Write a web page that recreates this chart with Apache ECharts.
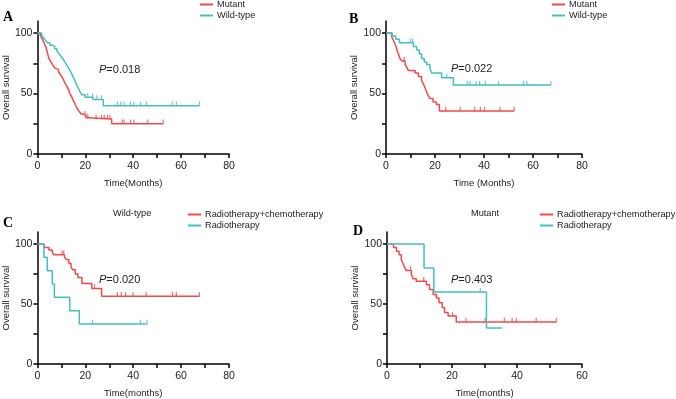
<!DOCTYPE html>
<html>
<head>
<meta charset="utf-8">
<script src="https://cdn.jsdelivr.net/npm/echarts@6/dist/echarts.min.js"></script>
<style>
html,body{margin:0;padding:0;background:#fff;}
#chart{width:676px;height:399px;}
</style>
</head>
<body>
<div id="chart"></div>
<script>
// ---------- Data ----------
// Panel A
const A_mutTime  = [0, 1.2, 1.8, 2.3, 2.8, 3.2, 3.6, 4.0, 4.4, 4.8, 5.4, 6.0, 6.6, 7.3, 8.0, 8.8, 9.5, 10.2, 10.8, 11.4, 12.0, 12.6, 13.2, 13.8, 14.4, 15.0, 15.6, 16.2, 16.8, 17.5, 18.3, 19.2, 20.2, 21.5, 31.0, 52.5];
const A_mutSurv  = [100, 98, 96, 94, 92, 90, 88, 85, 82, 79, 77, 75, 73, 71, 70, 68, 66, 64, 62, 59, 57, 55, 52, 49, 47, 44, 42, 39, 37, 35, 33, 32, 30, 29, 25, 25];
const A_mutCens  = [19.9, 21.0, 24.5, 26.8, 27.9, 29.3, 30.3, 35.4, 36.2, 38.9, 40.3, 46.1, 52.5];
const A_wildTime = [0, 1.8, 2.6, 3.4, 4.2, 5.2, 6.2, 7.2, 8.2, 9.0, 9.8, 10.5, 11.2, 11.8, 12.4, 13.0, 13.6, 14.2, 14.8, 15.4, 16.0, 16.6, 17.2, 17.9, 18.6, 19.9, 23.2, 27.5, 67.7];
const A_wildSurv = [100, 98, 96, 94, 92, 90, 89, 87, 85, 83, 81, 79, 77, 75, 73, 71, 69, 67, 64, 62, 59, 56, 54, 51, 49, 47, 45, 40, 40];
const A_wildCens = [21.0, 23.0, 24.8, 26.8, 33.4, 34.8, 36.2, 38.9, 40.3, 43.1, 45.5, 56.3, 58.0, 67.7];

// Panel B
const B_mutTime  = [0, 2.3, 3.0, 3.7, 4.2, 4.6, 5.2, 5.7, 6.4, 7.8, 8.4, 9.1, 11.9, 13.2, 14.5, 15.2, 15.9, 16.6, 17.3, 17.9, 19.2, 20.6, 21.8, 52.3];
const B_mutSurv  = [100, 97, 94, 91, 88, 85, 82, 79, 77, 74, 72, 69, 67, 64, 61, 58, 55, 51, 48, 46, 43, 41, 35.5, 35.5];
const B_mutCens  = [7.4, 24.4, 30.3, 36.2, 38.5, 40.2, 46.5, 52.3];
const B_wildTime = [0, 2.5, 4.0, 5.5, 11.2, 12.5, 13.6, 14.5, 15.6, 16.6, 17.9, 18.6, 22.7, 27.5, 67.3];
const B_wildSurv = [100, 97.5, 95, 92, 89, 86, 83, 79, 76, 74, 71, 67, 63, 57, 57];
const B_wildCens = [10.1, 10.9, 24.8, 33.2, 34.3, 36.8, 38.2, 40.5, 45.9, 56.1, 57.5, 67.3];

// Panel C (Wild-type)
const C_rcTime = [0, 2.7, 4.8, 6.2, 6.9, 11.3, 12.1, 13.1, 14.0, 14.7, 15.8, 16.9, 18.6, 22.7, 26.8, 67.6];
const C_rcSurv = [100, 97, 95, 93, 91, 89, 87, 84, 81, 78.5, 75, 72, 67, 63, 56.5, 56.5];
const C_rcCens = [10.3, 11.0, 23.8, 33.4, 35.0, 36.8, 39.9, 45.4, 56.4, 58.0, 67.6];
const C_rTime  = [0, 2.7, 4.1, 6.2, 7.1, 13.5, 17.5, 45.8];
const C_rSurv  = [100, 88.9, 77.8, 66.7, 55.6, 44.4, 33.3, 33.3];
const C_rCens  = [23.0, 43.0, 45.8];

// Panel D (Mutant)
const D_rcTime = [0, 2.0, 2.9, 3.7, 4.4, 4.9, 5.4, 5.9, 7.5, 8.0, 9.0, 12.1, 13.1, 14.2, 15.2, 16.0, 17.0, 17.7, 18.8, 21.3, 52.1];
const D_rcSurv = [100, 97, 94, 91, 87, 84, 80.5, 78, 74.5, 71, 69, 66, 62, 58, 55, 51, 47, 43, 40, 35, 35];
const D_rcCens = [7.2, 11.3, 20.2, 24.3, 30.2, 36.1, 38.5, 39.8, 45.9, 52.1];
const D_rTime  = [0, 11.4, 14.4, 30.6, 35.4];
const D_rSurv  = [100, 80, 60, 30, 30];
const D_rCens  = [28.7];

// Axis tick labels
const xLabels80 = [0, 20, 40, 60, 80];
const xLabels60 = [0, 20, 40, 60];
const yLabels = [0, 50, 100];
const yTicks = [0, 25, 50, 75, 100];

const P_values = ['0.018', '0.022', '0.020', '0.403'];

// ---------- Styling ----------
const RED = '#f2494b';
const CYAN = '#44bfc4';
const FONT = '"Liberation Sans", Arial, sans-serif';

function pairs(t, s) { return t.map((v, i) => [v, s[i]]); }
function censorPts(t, s, c) {
  return c.map(ct => {
    let y = s[0];
    for (let i = 0; i < t.length; i++) { if (t[i] <= ct) y = s[i]; }
    return [ct, y];
  });
}

const grids = [
  {left: 35, top: 21, width: 194, height: 133},
  {left: 386, top: 21, width: 196, height: 133},
  {left: 35, top: 232, width: 194, height: 134},
  {left: 387, top: 232, width: 195, height: 134}
];

const axisLine = {show: true, onZero: false, lineStyle: {color: '#000', width: 1.5}};
const axisTickBase = {show: true, length: 4, lineStyle: {color: '#000', width: 1.5}};

function xAxis(idx, max, labels, name) {
  const ticks = [];
  for (let v = 0; v <= max; v += 10) ticks.push(v);
  return {
    type: 'value', gridIndex: idx, min: 0, max: max,
    axisLine: axisLine,
    axisTick: Object.assign({}, axisTickBase, {customValues: ticks}),
    axisLabel: {customValues: labels, color: '#222', fontSize: 10.5, fontFamily: FONT, margin: 7},
    splitLine: {show: false},
    name: name, nameLocation: 'middle', nameGap: 24,
    nameTextStyle: {color: '#222', fontSize: 9.5, fontFamily: FONT}
  };
}
function yAxis(idx) {
  return {
    type: 'value', gridIndex: idx, min: 0, max: 110,
    axisLine: axisLine,
    axisTick: Object.assign({}, axisTickBase, {customValues: yTicks}),
    axisLabel: {customValues: yLabels, color: '#222', fontSize: 10.5, fontFamily: FONT, margin: 5},
    splitLine: {show: false},
    name: 'Overall survival', nameLocation: 'middle', nameGap: 22, nameRotate: 90,
    nameTextStyle: {color: '#222', fontSize: 9.5, fontFamily: FONT}
  };
}

function lineSeries(name, idx, t, s, color) {
  return {
    type: 'line', name: name, xAxisIndex: idx, yAxisIndex: idx,
    data: pairs(t, s), step: 'end', showSymbol: false, symbol: 'none',
    lineStyle: {color: color, width: 1.5}, itemStyle: {color: color},
    silent: true, z: 3
  };
}
function censorSeries(name, idx, t, s, c, color) {
  return {
    type: 'scatter', name: name + ' censored', xAxisIndex: idx, yAxisIndex: idx,
    data: censorPts(t, s, c), symbol: 'rect', symbolSize: [1.2, 4.5], symbolOffset: [0, -2],
    itemStyle: {color: color}, silent: true, z: 4
  };
}

function legend(left, top, names) {
  return {
    left: left, top: top, orient: 'vertical', itemGap: 0,
    itemWidth: 13, itemHeight: 2, icon: 'rect',
    data: names.map(n => ({name: n, icon: 'rect'})),
    textStyle: {color: '#222', fontSize: 9.2, fontFamily: FONT, lineHeight: 11, padding: [0, 0, 0, -1]},
    padding: 0, selectedMode: false
  };
}

function pText(x, y, val) {
  return {
    type: 'text', left: x, top: y,
    style: {
      text: '{i|P}{n|=' + val + '}',
      rich: {
        i: {fontStyle: 'italic', fontSize: 11, fontFamily: FONT, fill: '#222'},
        n: {fontSize: 11, fontFamily: FONT, fill: '#222'}
      }
    }
  };
}
function letter(x, y, t) {
  return {type: 'text', left: x, top: y,
    style: {text: t, font: 'bold 14px "Liberation Serif", "Times New Roman", serif', fill: '#000'}};
}
function title(x, y, t) {
  return {type: 'text', left: x, top: y,
    style: {text: t, font: '9.2px "Liberation Sans", Arial, sans-serif', fill: '#222'}};
}

const option = {
  animation: false,
  backgroundColor: '#fff',
  grid: grids,
  xAxis: [
    xAxis(0, 80, xLabels80, 'Time(Months)'),
    xAxis(1, 80, xLabels80, 'Time (Months)'),
    xAxis(2, 80, xLabels80, 'Time(months)'),
    xAxis(3, 60, xLabels60, 'Time(months)')
  ],
  yAxis: [yAxis(0), yAxis(1), yAxis(2), yAxis(3)],
  legend: [
    legend(200, -1, ['Mutant', 'Wild-type']),
    legend(552, -1, ['Mutant', 'Wild-type']),
    legend(188, 209, ['Radiotherapy+chemotherapy', 'Radiotherapy']),
    legend(540, 209, ['Radiotherapy+chemotherapy', 'Radiotherapy'])
  ],
  series: [
    lineSeries('Mutant', 0, A_mutTime, A_mutSurv, RED),
    lineSeries('Wild-type', 0, A_wildTime, A_wildSurv, CYAN),
    censorSeries('Mutant', 0, A_mutTime, A_mutSurv, A_mutCens, RED),
    censorSeries('Wild-type', 0, A_wildTime, A_wildSurv, A_wildCens, CYAN),

    lineSeries('Mutant', 1, B_mutTime, B_mutSurv, RED),
    lineSeries('Wild-type', 1, B_wildTime, B_wildSurv, CYAN),
    censorSeries('Mutant', 1, B_mutTime, B_mutSurv, B_mutCens, RED),
    censorSeries('Wild-type', 1, B_wildTime, B_wildSurv, B_wildCens, CYAN),

    lineSeries('Radiotherapy+chemotherapy', 2, C_rcTime, C_rcSurv, RED),
    lineSeries('Radiotherapy', 2, C_rTime, C_rSurv, CYAN),
    censorSeries('Radiotherapy+chemotherapy', 2, C_rcTime, C_rcSurv, C_rcCens, RED),
    censorSeries('Radiotherapy', 2, C_rTime, C_rSurv, C_rCens, CYAN),

    lineSeries('Radiotherapy+chemotherapy', 3, D_rcTime, D_rcSurv, RED),
    lineSeries('Radiotherapy', 3, D_rTime, D_rSurv, CYAN),
    censorSeries('Radiotherapy+chemotherapy', 3, D_rcTime, D_rcSurv, D_rcCens, RED),
    censorSeries('Radiotherapy', 3, D_rTime, D_rSurv, D_rCens, CYAN)
  ],
  graphic: [
    letter(3, 10, 'A'), letter(349, 12, 'B'), letter(3, 216, 'C'), letter(353, 224, 'D'),
    title(113, 209, 'Wild-type'), title(471, 209, 'Mutant'),
    pText(99, 64, P_values[0]), pText(451, 63, P_values[1]),
    pText(99, 274, P_values[2]), pText(451, 274, P_values[3])
  ]
};

const chart = echarts.init(document.getElementById('chart'), null, {renderer: 'canvas'});
chart.setOption(option);
</script>
</body>
</html>
